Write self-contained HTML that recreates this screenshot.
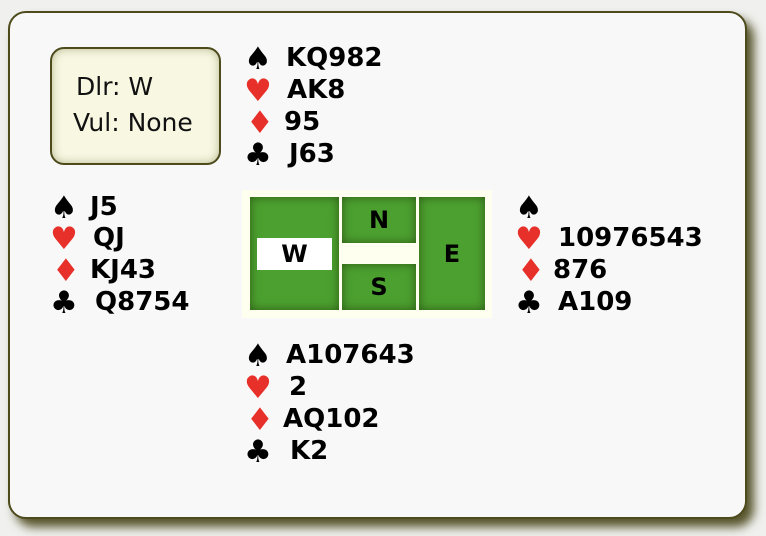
<!DOCTYPE html>
<html><head><style>
body{margin:0;width:766px;height:536px;background:#f0f0ee;position:relative;overflow:hidden;font-family:"DejaVu Sans","Liberation Sans",sans-serif}
.card{position:absolute;left:8px;top:11px;width:735px;height:504px;background:#f8f8f8;border:2px solid #4d4a1c;border-radius:18px;box-shadow:7px 8px 10px #55532a}
.info{position:absolute;left:50px;top:47px;width:167px;height:114px;border:2px solid #4d4a1c;border-radius:14px;background:#f7f7e2;box-shadow:inset 0 0 9px #b8b890;font-size:25px;color:#111}
.t{position:absolute;font-weight:bold;font-size:26px;line-height:30px;color:#000;white-space:nowrap}
.s{position:absolute;font-size:31px;line-height:30px;white-space:nowrap}
.r{color:#e8302a}
.cp{position:absolute;left:242px;top:190px;width:250px;height:128px;background:#fffff0}
.g{position:absolute;background:#4ca030;box-shadow:inset 0 0 10px #2d5a14;font-weight:bold;font-size:24px;display:flex;align-items:center;justify-content:center}
</style></head><body>
<div class="card"></div>
<div class="info"><div style="position:absolute;left:24px;top:23px">Dlr: W</div><div style="position:absolute;left:21px;top:59px">Vul: None</div></div>

<div class="s" style="left:244px;top:44px">♠</div><div class="t" style="left:286px;top:43px">KQ982</div>
<div class="s r" style="left:244px;top:76px">♥</div><div class="t" style="left:287px;top:75px">AK8</div>
<div class="s r" style="left:246px;top:108px">♦</div><div class="t" style="left:284px;top:107px">95</div>
<div class="s" style="left:244px;top:140px">♣</div><div class="t" style="left:289px;top:139px">J63</div>

<div class="s" style="left:50px;top:193px">♠</div><div class="t" style="left:90px;top:192px">J5</div>
<div class="s r" style="left:50px;top:224px">♥</div><div class="t" style="left:93px;top:223px">QJ</div>
<div class="s r" style="left:52px;top:256px">♦</div><div class="t" style="left:90px;top:255px">KJ43</div>
<div class="s" style="left:50px;top:288px">♣</div><div class="t" style="left:95px;top:287px">Q8754</div>

<div class="s" style="left:515px;top:193px">♠</div>
<div class="s r" style="left:515px;top:224px">♥</div><div class="t" style="left:558px;top:223px">10976543</div>
<div class="s r" style="left:517px;top:256px">♦</div><div class="t" style="left:553px;top:255px">876</div>
<div class="s" style="left:515px;top:288px">♣</div><div class="t" style="left:558px;top:287px">A109</div>

<div class="s" style="left:244px;top:341px">♠</div><div class="t" style="left:286px;top:340px">A107643</div>
<div class="s r" style="left:244px;top:373px">♥</div><div class="t" style="left:289px;top:372px">2</div>
<div class="s r" style="left:246px;top:405px">♦</div><div class="t" style="left:283px;top:404px">AQ102</div>
<div class="s" style="left:244px;top:437px">♣</div><div class="t" style="left:290px;top:436px">K2</div>

<div class="cp"></div>
<div class="g" style="left:250px;top:197px;width:89px;height:113px"><div style="background:#fff;width:75px;height:32px;display:flex;align-items:center;justify-content:center">W</div></div>
<div class="g" style="left:342px;top:197px;width:74px;height:46px">N</div>
<div class="g" style="left:342px;top:264px;width:74px;height:46px">S</div>
<div class="g" style="left:419px;top:197px;width:66px;height:113px">E</div>
</body></html>
